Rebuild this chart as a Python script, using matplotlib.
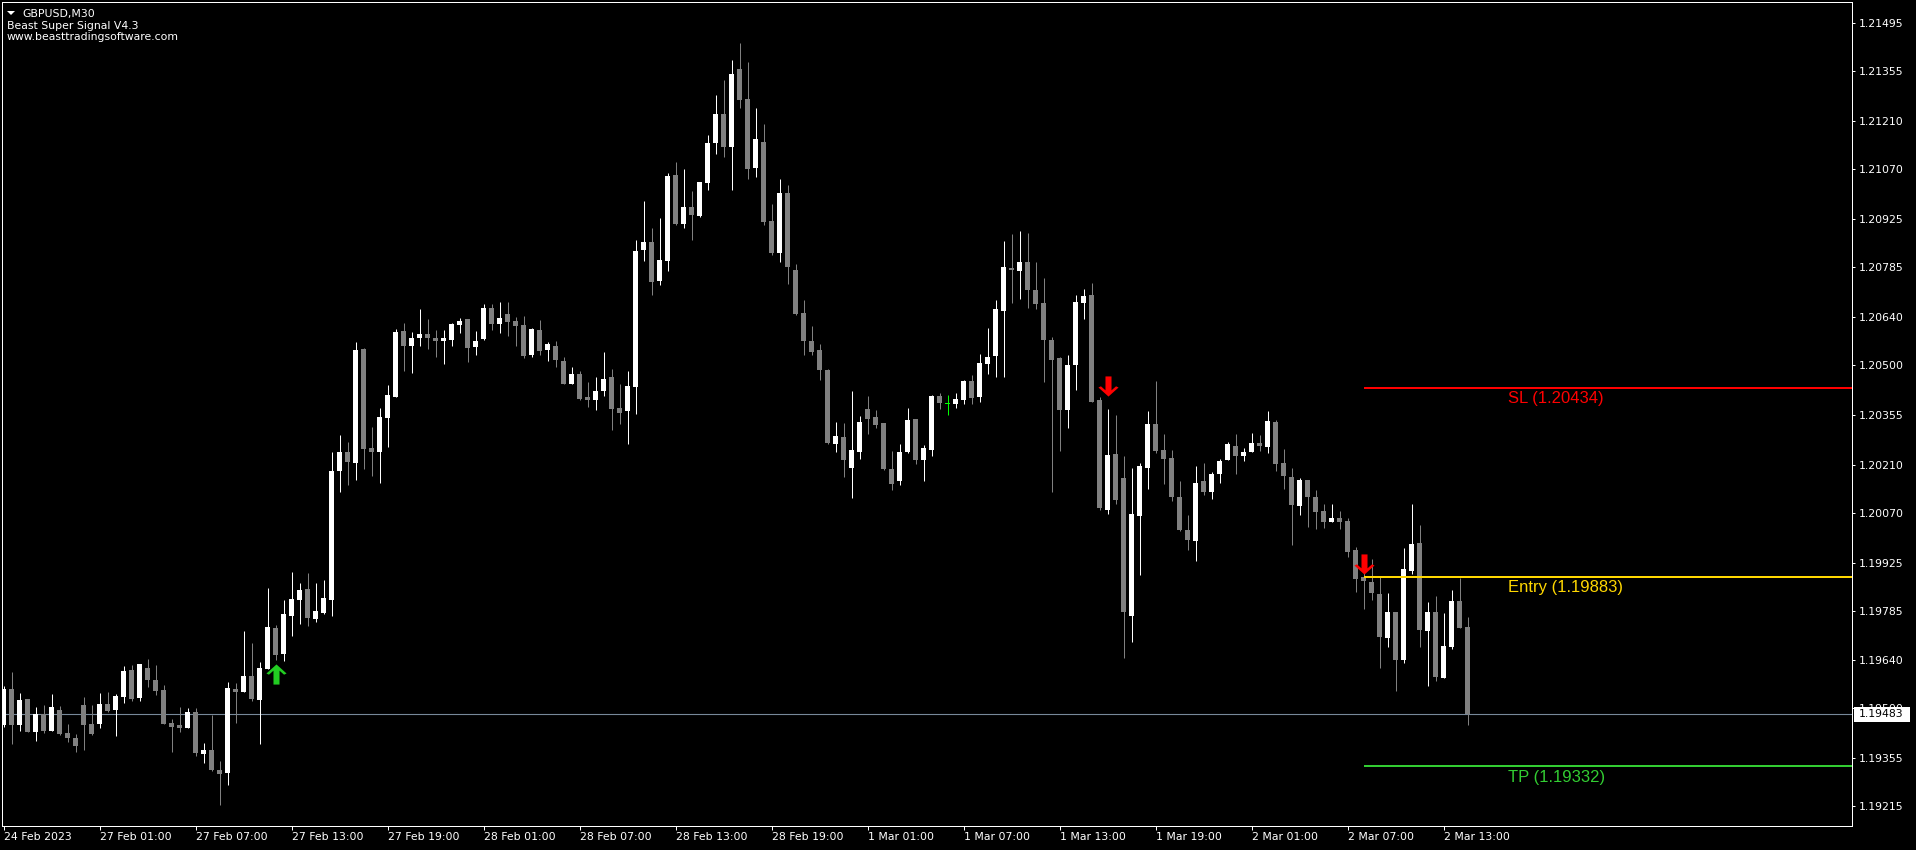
import numpy as np
import matplotlib
matplotlib.use('Agg')
import matplotlib.pyplot as plt
import matplotlib.transforms as mtransforms
from matplotlib.path import Path
from matplotlib.patches import Rectangle, Polygon

# GBPUSD M30 candles
opens = [
    1.19452, 1.19557, 1.19452, 1.19528, 1.19431, 1.19484, 1.19434, 1.19496, 1.19429, 1.19414,
    1.19510, 1.19455, 1.19455, 1.19513, 1.19496, 1.19533, 1.19612, 1.19530, 1.19618, 1.19584,
    1.19554, 1.19458, 1.19452, 1.19443, 1.19490, 1.19367, 1.19379, 1.19321, 1.19312, 1.19557,
    1.19548, 1.19595, 1.19525, 1.19615, 1.19734, 1.19659, 1.19769, 1.19816, 1.19848, 1.19761,
    1.19778, 1.19816, 1.20191, 1.20247, 1.20215, 1.20547, 1.20258, 1.20247, 1.20346, 1.20407,
    1.20599, 1.20555, 1.20579, 1.20590, 1.20579, 1.20570, 1.20573, 1.20617, 1.20634, 1.20552,
    1.20576, 1.20666, 1.20620, 1.20649, 1.20628, 1.20617, 1.20529, 1.20602, 1.20544, 1.20555,
    1.20512, 1.20445, 1.20474, 1.20407, 1.20398, 1.20424, 1.20465, 1.20375, 1.20366, 1.20436,
    1.20835, 1.20858, 1.20745, 1.20803, 1.21053, 1.20911, 1.20960, 1.20934, 1.21030, 1.21147,
    1.21231, 1.21135, 1.21362, 1.21275, 1.21074, 1.21150, 1.20919, 1.20826, 1.21001, 1.20777,
    1.20652, 1.20570, 1.20544, 1.20486, 1.20270, 1.20290, 1.20200, 1.20247, 1.20372, 1.20349,
    1.20331, 1.20197, 1.20162, 1.20247, 1.20343, 1.20224, 1.20253, 1.20410, 1.20388, 1.20386,
    1.20398, 1.20454, 1.20407, 1.20503, 1.20526, 1.20657, 1.20783, 1.20774, 1.20800, 1.20719,
    1.20681, 1.20573, 1.20521, 1.20369, 1.20500, 1.20681, 1.20704, 1.20398, 1.20078, 1.20241,
    1.20171, 1.19769, 1.20060, 1.20200, 1.20328, 1.20253, 1.20230, 1.20116, 1.20020, 1.19988,
    1.20162, 1.20130, 1.20183, 1.20224, 1.20264, 1.20235, 1.20247, 1.20273, 1.20261, 1.20334,
    1.20215, 1.20174, 1.20090, 1.20165, 1.20116, 1.20075, 1.20043, 1.20055, 1.20046, 1.19961,
    1.19883, 1.19868, 1.19833, 1.19705, 1.19781, 1.19641, 1.19900, 1.19982, 1.19726, 1.19781,
    1.19589, 1.19679, 1.19813, 1.19737]
highs = [
    1.19565, 1.19606, 1.19545, 1.19528, 1.19504, 1.19510, 1.19542, 1.19507, 1.19455, 1.19426,
    1.19534, 1.19510, 1.19545, 1.19548, 1.19542, 1.19624, 1.19627, 1.19629, 1.19644, 1.19627,
    1.19568, 1.19469, 1.19504, 1.19501, 1.19501, 1.19400, 1.19481, 1.19347, 1.19577, 1.19574,
    1.19726, 1.19691, 1.19635, 1.19851, 1.19743, 1.19816, 1.19897, 1.19865, 1.19894, 1.19865,
    1.19874, 1.20247, 1.20296, 1.20276, 1.20567, 1.20550, 1.20320, 1.20375, 1.20442, 1.20605,
    1.20622, 1.20596, 1.20663, 1.20634, 1.20602, 1.20602, 1.20622, 1.20637, 1.20634, 1.20599,
    1.20678, 1.20678, 1.20684, 1.20684, 1.20640, 1.20643, 1.20608, 1.20631, 1.20567, 1.20570,
    1.20523, 1.20494, 1.20483, 1.20451, 1.20465, 1.20538, 1.20489, 1.20445, 1.20483, 1.20864,
    1.20978, 1.20899, 1.20928, 1.21059, 1.21091, 1.21071, 1.21007, 1.21033, 1.21170, 1.21286,
    1.21330, 1.21388, 1.21438, 1.21382, 1.21249, 1.21202, 1.20969, 1.21042, 1.21024, 1.20794,
    1.20689, 1.20614, 1.20561, 1.20489, 1.20334, 1.20331, 1.20424, 1.20352, 1.20410, 1.20369,
    1.20331, 1.20250, 1.20270, 1.20375, 1.20343, 1.20267, 1.20413, 1.20419, 1.20413, 1.20419,
    1.20456, 1.20471, 1.20532, 1.20608, 1.20689, 1.20861, 1.20882, 1.20890, 1.20884, 1.20800,
    1.20753, 1.20582, 1.20523, 1.20529, 1.20704, 1.20722, 1.20739, 1.20407, 1.20372, 1.20355,
    1.20235, 1.20200, 1.20215, 1.20366, 1.20453, 1.20299, 1.20253, 1.20162, 1.20063, 1.20206,
    1.20215, 1.20189, 1.20227, 1.20276, 1.20299, 1.20258, 1.20302, 1.20296, 1.20366, 1.20340,
    1.20256, 1.20200, 1.20171, 1.20165, 1.20136, 1.20095, 1.20095, 1.20075, 1.20055, 1.19970,
    1.19894, 1.19935, 1.19886, 1.19836, 1.19781, 1.19967, 1.20095, 1.20034, 1.19810, 1.19827,
    1.19778, 1.19845, 1.19880, 1.19766]
lows = [
    1.19446, 1.19397, 1.19434, 1.19431, 1.19405, 1.19429, 1.19434, 1.19423, 1.19402, 1.19373,
    1.19379, 1.19423, 1.19443, 1.19490, 1.19420, 1.19516, 1.19522, 1.19522, 1.19563, 1.19539,
    1.19455, 1.19373, 1.19431, 1.19443, 1.19361, 1.19341, 1.19318, 1.19219, 1.19277, 1.19458,
    1.19548, 1.19522, 1.19397, 1.19615, 1.19641, 1.19638, 1.19711, 1.19746, 1.19740, 1.19752,
    1.19775, 1.19769, 1.20130, 1.20151, 1.20165, 1.20197, 1.20177, 1.20157, 1.20261, 1.20407,
    1.20483, 1.20477, 1.20555, 1.20547, 1.20523, 1.20503, 1.20555, 1.20593, 1.20509, 1.20529,
    1.20573, 1.20602, 1.20593, 1.20585, 1.20555, 1.20521, 1.20523, 1.20529, 1.20512, 1.20494,
    1.20445, 1.20445, 1.20398, 1.20378, 1.20369, 1.20410, 1.20311, 1.20328, 1.20270, 1.20357,
    1.20803, 1.20704, 1.20733, 1.20774, 1.20908, 1.20899, 1.20864, 1.20931, 1.21010, 1.21115,
    1.21106, 1.21010, 1.21249, 1.21042, 1.21048, 1.20908, 1.20820, 1.20800, 1.20736, 1.20646,
    1.20529, 1.20529, 1.20456, 1.20270, 1.20247, 1.20174, 1.20113, 1.20227, 1.20299, 1.20317,
    1.20194, 1.20136, 1.20151, 1.20244, 1.20212, 1.20162, 1.20235, 1.20372, 1.20355, 1.20375,
    1.20386, 1.20386, 1.20392, 1.20474, 1.20465, 1.20465, 1.20681, 1.20692, 1.20666, 1.20663,
    1.20451, 1.20130, 1.20250, 1.20317, 1.20427, 1.20634, 1.20392, 1.20078, 1.20066, 1.20095,
    1.19647, 1.19694, 1.19888, 1.20139, 1.20244, 1.20154, 1.20104, 1.20017, 1.19961, 1.19929,
    1.20121, 1.20110, 1.20156, 1.20224, 1.20183, 1.20221, 1.20247, 1.20250, 1.20244, 1.20191,
    1.20139, 1.19976, 1.20063, 1.20028, 1.20023, 1.20025, 1.20043, 1.20023, 1.19941, 1.19839,
    1.19790, 1.19816, 1.19618, 1.19679, 1.19551, 1.19632, 1.19891, 1.19679, 1.19565, 1.19580,
    1.19589, 1.19673, 1.19734, 1.19452]
closes = [
    1.19557, 1.19452, 1.19525, 1.19431, 1.19484, 1.19434, 1.19504, 1.19426, 1.19414, 1.19391,
    1.19452, 1.19426, 1.19513, 1.19493, 1.19536, 1.19609, 1.19528, 1.19629, 1.19584, 1.19551,
    1.19455, 1.19446, 1.19443, 1.19490, 1.19370, 1.19379, 1.19321, 1.19309, 1.19560, 1.19548,
    1.19595, 1.19528, 1.19618, 1.19737, 1.19656, 1.19775, 1.19819, 1.19845, 1.19763, 1.19784,
    1.19822, 1.20191, 1.20247, 1.20218, 1.20544, 1.20256, 1.20247, 1.20349, 1.20413, 1.20596,
    1.20555, 1.20579, 1.20590, 1.20579, 1.20570, 1.20579, 1.20620, 1.20628, 1.20550, 1.20570,
    1.20666, 1.20620, 1.20637, 1.20625, 1.20614, 1.20526, 1.20605, 1.20541, 1.20561, 1.20515,
    1.20445, 1.20474, 1.20401, 1.20398, 1.20424, 1.20459, 1.20372, 1.20360, 1.20439, 1.20832,
    1.20858, 1.20742, 1.20806, 1.21050, 1.20911, 1.20960, 1.20937, 1.21033, 1.21147, 1.21231,
    1.21135, 1.21347, 1.21272, 1.21071, 1.21158, 1.20916, 1.20826, 1.21001, 1.20786, 1.20649,
    1.20570, 1.20538, 1.20486, 1.20273, 1.20293, 1.20224, 1.20253, 1.20334, 1.20343, 1.20325,
    1.20197, 1.20154, 1.20247, 1.20340, 1.20224, 1.20258, 1.20410, 1.20390, 1.20388, 1.20401,
    1.20454, 1.20404, 1.20506, 1.20523, 1.20663, 1.20786, 1.20777, 1.20800, 1.20719, 1.20678,
    1.20573, 1.20515, 1.20369, 1.20500, 1.20684, 1.20701, 1.20392, 1.20084, 1.20238, 1.20107,
    1.19781, 1.20066, 1.20206, 1.20328, 1.20250, 1.20227, 1.20116, 1.20020, 1.19990, 1.20156,
    1.20130, 1.20183, 1.20221, 1.20270, 1.20235, 1.20247, 1.20273, 1.20264, 1.20337, 1.20212,
    1.20177, 1.20092, 1.20165, 1.20116, 1.20072, 1.20043, 1.20055, 1.20043, 1.19955, 1.19877,
    1.19871, 1.19836, 1.19708, 1.19781, 1.19641, 1.19906, 1.19979, 1.19729, 1.19781, 1.19592,
    1.19682, 1.19813, 1.19734, 1.19483]

x_labels = ['24 Feb 2023', '27 Feb 01:00', '27 Feb 07:00', '27 Feb 13:00', '27 Feb 19:00',
            '28 Feb 01:00', '28 Feb 07:00', '28 Feb 13:00', '28 Feb 19:00', '1 Mar 01:00',
            '1 Mar 07:00', '1 Mar 13:00', '1 Mar 19:00', '2 Mar 01:00', '2 Mar 07:00',
            '2 Mar 13:00']
bars_per_label = 12
y_ticks = [1.21495, 1.21355, 1.21210, 1.21070, 1.20925, 1.20785, 1.20640, 1.20500, 1.20355,
           1.20210, 1.20070, 1.19925, 1.19785, 1.19640, 1.19500, 1.19355, 1.19215]

symbol = 'GBPUSD,M30'
indicator = 'Beast Super Signal V4.3'
website = 'www.beasttradingsoftware.com'
bid = 1.19483
sl_price, entry_price, tp_price = 1.20434, 1.19883, 1.19332
buy_bars, buy_prices = [34], [1.19599]
sell_bars, sell_prices = [138, 170], [1.20439, 1.19922]
trade_bar = 170

W, H = 1916, 850
plt.rcParams['font.family'] = 'DejaVu Sans'
fig = plt.figure(figsize=(W / 100, H / 100), dpi=100, facecolor='black')
ax = fig.add_axes([2 / W, 24 / H, 1850 / W, 824 / H], facecolor='black')
ax.set_xlim(-0.1875, 231.0625)
ax.set_ylim(1.191577, 1.215572)
px = (1.215572 - 1.191577) / 824  # price per pixel

o = np.array(opens); h = np.array(highs); l = np.array(lows); c = np.array(closes)
idx = np.arange(len(o))
col = np.where(c > o, '#ffffff', np.where(c < o, '#808080', '#00ff00'))

ax.vlines(idx, l, h, colors=col, lw=0.72, zorder=2)
body_lo = np.minimum(o, c)
body_h = np.maximum(np.abs(c - o), px)
ax.bar(idx, body_h, bottom=body_lo, width=0.625, color=col, linewidth=0, zorder=3)

# bid line and trade levels
ax.axhline(bid, color='#778899', lw=0.8, zorder=1)
x_end = ax.get_xlim()[1]
levels = [(sl_price, '#ff0000', 'SL'), (entry_price, '#ffd700', 'Entry'), (tp_price, '#32cd32', 'TP')]
for price, color, name in levels:
    ax.hlines(price, trade_bar, x_end, colors=color, lw=1.44, zorder=4)
    ax.annotate('%s (%.5f)' % (name, price), xy=(188, price), xytext=(0, -11.2),
                textcoords='offset points', va='baseline', ha='left', color=color,
                fontsize=12, family='Liberation Sans', zorder=5)

# signal arrows (chevron head, thick shaft)
up_arrow = Path([(0, 1), (1, 0.1), (0.75, -0.02), (0.3, 0.38), (0.3, -1), (-0.3, -1),
                 (-0.3, 0.38), (-0.75, -0.02), (-1, 0.1), (0, 1)], closed=True)
down_arrow = Path([(x, -y) for x, y in up_arrow.vertices], closed=True)
ax.plot(buy_bars, buy_prices, ls='none', marker=up_arrow, ms=14.5, color='#22cc22',
        mec='none', zorder=6)
ax.plot(sell_bars, sell_prices, ls='none', marker=down_arrow, ms=14.5, color='#ff0000',
        mec='none', zorder=6)

# axes styling
for s in ax.spines.values():
    s.set_color('white')
    s.set_linewidth(0.72)
ax.yaxis.tick_right()
ax.set_yticks(y_ticks, ['%.5f' % v for v in y_ticks])
ax.tick_params(axis='y', colors='white', labelsize=7.85, length=2.2, width=0.72, pad=2.9)
ax.set_xticks(np.arange(len(x_labels)) * bars_per_label, x_labels)
ax.tick_params(axis='x', colors='white', labelsize=7.85, length=3, width=0.72, pad=1.5)
for lbl in ax.get_xticklabels():
    lbl.set_ha('left')

# bid price box on the price scale (covers the scale label below it, as in the terminal)
tr = mtransforms.blended_transform_factory(fig.transFigure, ax.transData)
fig.add_artist(Rectangle((1854 / W, bid - 7.5 * px), 56 / W, 15 * px, transform=tr,
                         facecolor='white', edgecolor='none', zorder=5))
fig.text(1859 / W, bid, '%.5f' % bid, transform=tr, va='center', ha='left',
         color='black', fontsize=7.85, zorder=6)

# header texts
fig.add_artist(Polygon([(7 / W, 1 - 11 / H), (15 / W, 1 - 11 / H), (11 / W, 1 - 15 / H)],
                       closed=True, transform=fig.transFigure, facecolor='white',
                       edgecolor='none', zorder=5))
fig.text(22 / W, 1 - 16.7 / H, symbol, va='baseline', color='white', fontsize=7.85)
fig.text(7 / W, 1 - 29.3 / H, indicator, va='baseline', color='white', fontsize=7.85)
fig.text(7 / W, 1 - 40.5 / H, website, va='baseline', color='white', fontsize=7.85)

fig.savefig('out.png', dpi=100, facecolor='black')
